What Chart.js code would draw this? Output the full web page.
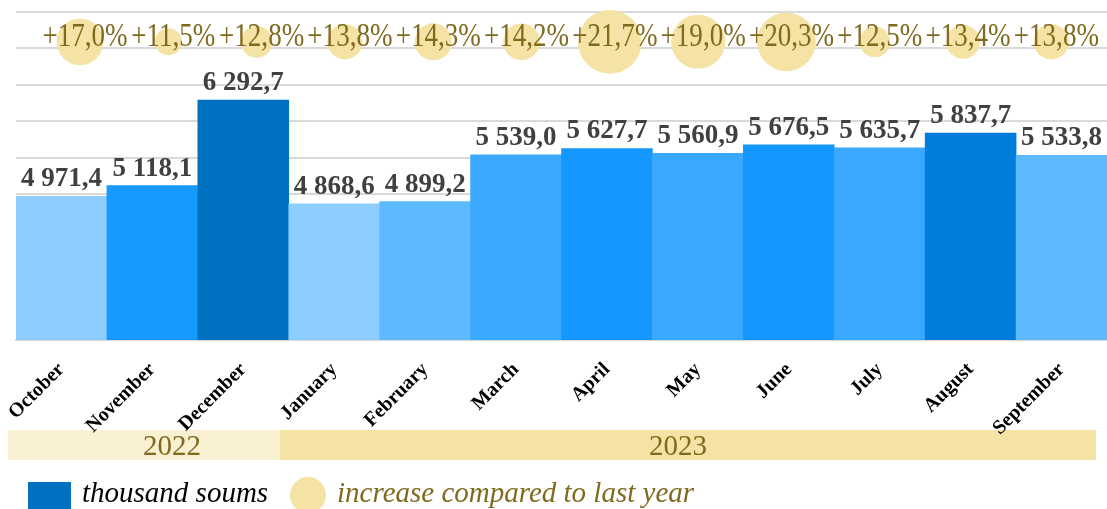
<!DOCTYPE html>
<html>
<head>
<meta charset="utf-8">
<script src="https://cdn.jsdelivr.net/npm/chart.js@4.4.0/dist/chart.umd.min.js"></script>
<style>
html,body{margin:0;padding:0;background:#fff}
#wrap{position:relative;width:1107px;height:509px}
</style>
</head>
<body>
<div id="wrap"><canvas id="chart"></canvas></div>
<script>
// data
var months = ['October','November','December','January','February','March','April','May','June','July','August','September'];
var values = [4971.4, 5118.1, 6292.7, 4868.6, 4899.2, 5539.0, 5627.7, 5560.9, 5676.5, 5635.7, 5837.7, 5533.8];
var growth = [17.0, 11.5, 12.8, 13.8, 14.3, 14.2, 21.7, 19.0, 20.3, 12.5, 13.4, 13.8];
var years = ['2022', '2023'];
var yearMonths = [3, 9];
var seriesNames = ['thousand soums', 'increase compared to last year'];

// styles
var barColors = ['#8DCDFF','#179AFF','#0070C0','#8DCDFF','#5EBAFF','#3AA8FF','#1497FF','#3AA8FF','#1497FF','#3AA8FF','#007DDA','#5EBAFF'];
var legendBarColor = '#0070C0';
var bubbleColor = '#F5E2A5';
var olive = '#7F6A1E';
var yearBandColors = ['#FAF0D2', '#F5E2A5'];
var yearTextShift = [28, -10];
var serif = '"Liberation Serif", "Times New Roman", serif';

function fmtValue(v){
  var s = v.toFixed(1).split('.');
  var int = s[0].replace(/\B(?=(\d{3})+(?!\d))/g, ' ');
  return int + ',' + s[1];
}
function fmtGrowth(v){
  return '+' + v.toFixed(1).replace('.', ',') + '%';
}
function bubbleRadius(v){
  return 13.5 + 1.8 * (v - 11.5);
}

// narrow text, like the original
function squeezedText(c, text, x, y, sx){
  c.save();
  c.translate(x, y);
  c.scale(sx, 1);
  c.fillText(text, 0, 0);
  c.restore();
}

// texts, year band, legend
var extrasPlugin = {
  id: 'extras',
  beforeDraw: function(chart){
    var c = chart.ctx, area = chart.chartArea;
    var step = (area.right - area.left) / months.length;
    var top = area.bottom + 90, h = 30;
    var start = 0;
    c.save();
    years.forEach(function(y, k){
      var x0 = k === 0 ? area.left - 8 : area.left + start * step - 9;
      var end = start + yearMonths[k];
      var x1 = end >= months.length ? area.right - 11 : area.left + end * step - 9;
      c.fillStyle = yearBandColors[k];
      c.fillRect(x0, top, x1 - x0, h);
      c.fillStyle = olive;
      c.font = '29px ' + serif;
      c.textAlign = 'center';
      c.textBaseline = 'alphabetic';
      c.fillText(y, (x0 + x1) / 2 + yearTextShift[k], top + 25);
      start = end;
    });
    c.restore();
  },
  afterDatasetsDraw: function(chart){
    var c = chart.ctx;
    c.save();
    c.textAlign = 'center';
    var barMeta = chart.getDatasetMeta(1);
    c.font = 'bold 27px ' + serif;
    c.fillStyle = '#404040';
    c.textBaseline = 'alphabetic';
    barMeta.data.forEach(function(bar, i){
      c.fillText(fmtValue(values[i]), bar.x, bar.y - 10);
    });
    var bubMeta = chart.getDatasetMeta(0);
    c.font = '33px ' + serif;
    c.fillStyle = olive;
    c.textBaseline = 'middle';
    bubMeta.data.forEach(function(pt, i){
      squeezedText(c, fmtGrowth(growth[i]), pt.x + 5, pt.y - 4, 0.82);
    });
    c.restore();
  },
  afterDraw: function(chart){
    var c = chart.ctx, area = chart.chartArea;
    var cy = area.bottom + 155;
    c.save();
    c.fillStyle = legendBarColor;
    c.fillRect(28, cy - 13, 43, 30);
    c.font = 'italic 29px ' + serif;
    c.textBaseline = 'alphabetic';
    c.textAlign = 'left';
    c.fillStyle = '#000';
    c.fillText(seriesNames[0], 82, cy + 7);
    c.fillStyle = bubbleColor;
    c.beginPath();
    c.arc(308, cy, 18, 0, Math.PI * 2);
    c.fill();
    c.fillStyle = olive;
    c.fillText(seriesNames[1], 337, cy + 7);
    c.restore();
  }
};

var ctx = document.getElementById('chart').getContext('2d');
var chart = new Chart(ctx, {
  type: 'bar',
  data: {
    labels: months,
    datasets: [
      {
        type: 'bubble',
        label: seriesNames[1],
        data: growth.map(function(g, i){ return {x: i, y: 0}; }),
        xAxisID: 'x2',
        yAxisID: 'y2',
        backgroundColor: bubbleColor,
        borderWidth: 0,
        clip: false,
        radius: function(ctx){ return bubbleRadius(growth[ctx.dataIndex]); },
        order: 0
      },
      {
        label: seriesNames[0],
        data: values,
        backgroundColor: barColors,
        borderWidth: 0,
        grouped: false,
        categoryPercentage: 1,
        barPercentage: 1,
        order: 1
      }
    ]
  },
  options: {
    responsive: true,
    maintainAspectRatio: false,
    animation: false,
    layout: { autoPadding: false, padding: { left: 16, right: 0, top: 12, bottom: 0 } },
    plugins: { legend: { display: false }, tooltip: { enabled: false } },
    scales: {
      x: {
        type: 'category',
        grid: { display: false },
        border: { display: true, color: '#D9D9D9', width: 2 },
        ticks: {
          minRotation: 45, maxRotation: 45, padding: 10, color: '#000',
          font: { family: serif, size: 20, weight: 'bold' }
        },
        afterFit: function(s){
          s.height = 169;
          s.paddingLeft = 0;
          s.paddingRight = 0;
        }
      },
      y: {
        min: 3000, max: 7500,
        ticks: { display: false, stepSize: 500 },
        grid: { color: '#D9D9D9', lineWidth: 2, drawTicks: false },
        border: { display: false }
      },
      x2: { type: 'linear', display: false, offset: false, grid: { offset: false }, min: -0.725, max: 11.63 },
      y2: { type: 'linear', display: false, offset: false, min: -10, max: 1 }
    }
  },
  plugins: [extrasPlugin]
});
</script>
</body>
</html>
